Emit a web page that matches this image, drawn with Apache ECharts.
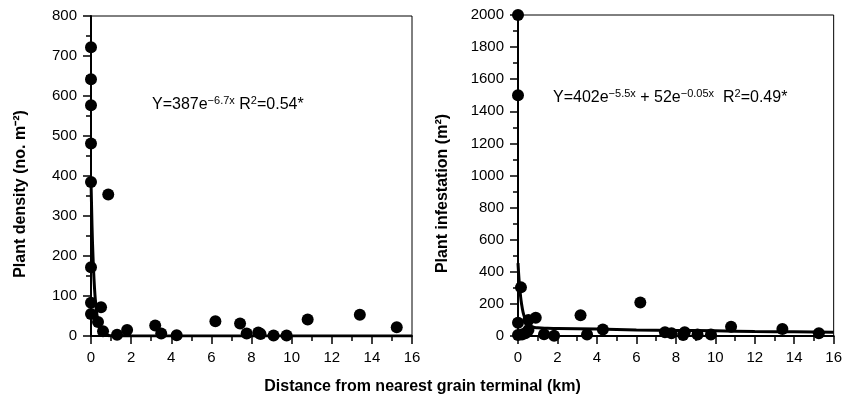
<!DOCTYPE html>
<html><head><meta charset="utf-8">
<script src="https://cdn.jsdelivr.net/npm/echarts@6/dist/echarts.min.js"></script>
<style>html,body{margin:0;padding:0;background:#fff}#c{width:845px;height:400px}</style>
</head><body><div id="c"></div>
<script>
// Left panel: plant density (no. m^-2) vs distance (km)
const densityPoints = [
  [0,722],[0,642],[0,577],[0,481],[0,385],[0.86,354],[0,172],[0,83],[0,55],
  [0.5,72],[0.35,35],[0.6,12],[1.3,3],[1.8,15],[3.2,26],[3.5,6],[4.27,2],
  [6.2,37],[7.43,31],[7.76,6],[8.34,9],[8.45,5],[9.1,1],[9.75,1],[10.8,41],
  [13.4,53],[15.24,22]
];
// fitted curve Y=387e^-6.7x (read-off points)
const densityCurveX = [0,0.05,0.1,0.15,0.2,0.25,0.3,0.4,0.5,0.6,0.8,1,1.5,2,16];
const densityCurveY = [387,277,198,142,101,72,52,26,14,7,2,0.5,0,0,0];
// Right panel: plant infestation (m^2)
const infestPoints = [
  [0,2000],[0,1500],[0.15,303],[0,83],[0,6],[0.2,10],[0.37,17],[0.53,37],[0.53,100],
  [0.9,114],[1.32,11],[1.83,2],[3.17,129],[3.5,10],[4.3,40],[6.2,209],[7.45,23],
  [7.78,17],[8.37,6],[8.45,23],[9.1,10],[9.78,10],[10.8,58],[13.4,44],[15.25,17]
];
// fitted curve Y=402e^-5.5x + 52e^-0.05x (read-off points)
const infestCurveX = [0,0.05,0.1,0.15,0.2,0.3,0.4,0.5,0.75,1,1.5,2,4,6,8,10,12,14,16];
const infestCurveY = [454,356,284,227,185,128,96,76,56,51,48,47,43,38,35,32,28,26,23];
const xTicks = [0,2,4,6,8,10,12,14,16];
const leftYTicks = [0,100,200,300,400,500,600,700,800];
const rightYTicks = [0,200,400,600,800,1000,1200,1400,1600,1800,2000];

const font = '"Liberation Sans", Arial, Helvetica, sans-serif';
const zip = (xs, ys) => xs.map((x, i) => [x, ys[i]]);

function xAxisDef(gi) {
  return {
    type: 'value', gridIndex: gi, min: xTicks[0], max: xTicks[xTicks.length-1], interval: 2,
    axisLine: {show: true, onZero: false, lineStyle: {color: '#000', width: 2}},
    axisTick: {show: true, inside: false, length: 8, lineStyle: {color: '#000', width: 1.5}},
    minorTick: {show: true, splitNumber: 2, length: 5, lineStyle: {color: '#000', width: 1.5}},
    splitLine: {show: false},
    axisLabel: {color: '#000', fontSize: 15, fontFamily: font, margin: 14, formatter: v => String(v)}
  };
}
function yAxisDef(gi, ticks, name, gap) {
  return {
    type: 'value', gridIndex: gi, min: ticks[0], max: ticks[ticks.length-1],
    interval: ticks[1]-ticks[0],
    name: name, nameLocation: 'middle', nameRotate: 90, nameGap: gap,
    nameTextStyle: {color: '#000', fontSize: 16, fontWeight: 'bold', fontFamily: font, padding: [0, 36, 0, 0]},
    axisLine: {show: true, onZero: false, lineStyle: {color: '#000', width: 2}},
    axisTick: {show: true, inside: false, length: 8, lineStyle: {color: '#000', width: 1.5}},
    minorTick: {show: true, splitNumber: 2, length: 5, lineStyle: {color: '#000', width: 1.5}},
    splitLine: {show: false},
    axisLabel: {color: '#000', fontSize: 15, fontFamily: font, margin: 14, formatter: v => String(v)}
  };
}

const chart = echarts.init(document.getElementById('c'), null, {renderer: 'canvas'});
chart.setOption({
  backgroundColor: '#fff',
  animation: false,
  grid: [
    {left: 91, right: 433, top: 16, bottom: 64, show: true, borderColor: '#000', borderWidth: 1},
    {left: 518, right: 7, top: 15, bottom: 64, show: true, borderColor: '#000', borderWidth: 1}
  ],
  xAxis: [xAxisDef(0), xAxisDef(1)],
  yAxis: [
    yAxisDef(0, leftYTicks, 'Plant density (no. m\u207B\u00B2)', 62),
    yAxisDef(1, rightYTicks, 'Plant infestation (m\u00B2)', 67)
  ],
  title: [{
    text: 'Distance from nearest grain terminal (km)',
    left: 'center', top: 374,
    textStyle: {color: '#000', fontSize: 16, fontWeight: 'bold', fontFamily: font}
  }],
  graphic: [
    {type: 'text', left: 152, top: 95, style: {
      text: '{n|Y=387e}{s|\u22126.7x}{n| R}{s|2}{n|=0.54*}',
      rich: {n: {fontSize: 16, fontFamily: font, color: '#000'}, s: {fontSize: 11, fontFamily: font, color: '#000', padding: [0,0,8,0]}}
    }},
    {type: 'text', left: 553, top: 88, style: {
      text: '{n|Y=402e}{s|\u22125.5x}{n| + 52e}{s|\u22120.05x}{n|  R}{s|2}{n|=0.49*}',
      rich: {n: {fontSize: 16, fontFamily: font, color: '#000'}, s: {fontSize: 11, fontFamily: font, color: '#000', padding: [0,0,8,0]}}
    }}
  ],
  series: [
    {type: 'line', xAxisIndex: 0, yAxisIndex: 0, data: zip(densityCurveX, densityCurveY), smooth: true, showSymbol: false,
     lineStyle: {color: '#000', width: 3}, z: 3},
    {type: 'scatter', xAxisIndex: 0, yAxisIndex: 0, data: densityPoints, symbolSize: 12,
     itemStyle: {color: '#000', opacity: 1}, z: 4},
    {type: 'line', xAxisIndex: 1, yAxisIndex: 1, data: zip(infestCurveX, infestCurveY), smooth: true, showSymbol: false,
     lineStyle: {color: '#000', width: 3}, z: 3},
    {type: 'scatter', xAxisIndex: 1, yAxisIndex: 1, data: infestPoints, symbolSize: 12,
     itemStyle: {color: '#000', opacity: 1}, z: 4}
  ]
});
</script></body></html>
